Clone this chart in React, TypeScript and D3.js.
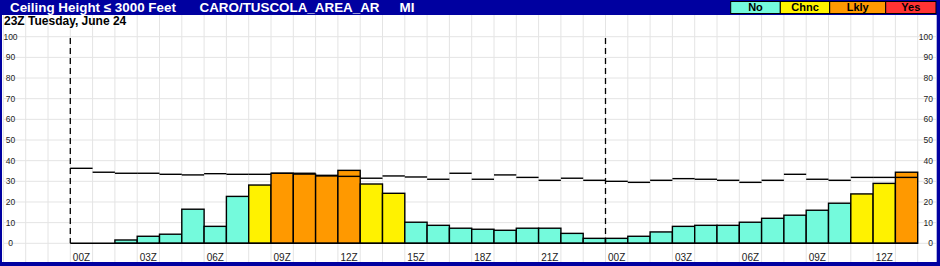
import React from "react";
import * as d3 from "d3";

const hours = [
  "00Z","01Z","02Z","03Z","04Z","05Z","06Z","07Z","08Z","09Z","10Z","11Z",
  "12Z","13Z","14Z","15Z","16Z","17Z","18Z","19Z","20Z","21Z","22Z","23Z",
  "00Z","01Z","02Z","03Z","04Z","05Z","06Z","07Z","08Z","09Z","10Z","11Z",
  "12Z","13Z",
];
const probability = [
  0, 0, 1.6, 3.4, 4.4, 16.5, 8.2, 22.7, 28.2, 33.9, 33.5, 32.6,
  35.3, 28.7, 24.2, 10.2, 8.7, 7.3, 6.8, 6.3, 7.3, 7.3, 4.8, 2.4,
  2.4, 3.4, 5.5, 8.2, 8.7, 8.7, 10.2, 12.1, 13.6, 16.0, 19.4, 23.9,
  29.0, 34.4,
];
const category = [
  0, 0, 0, 0, 0, 0, 0, 0, 1, 2, 2, 2,
  2, 1, 1, 0, 0, 0, 0, 0, 0, 0, 0, 0,
  0, 0, 0, 0, 0, 0, 0, 0, 0, 0, 0, 1,
  1, 2,
];
const climo = [
  36.3, 34.4, 33.9, 33.9, 33.4, 33.1, 33.7, 33.4, 33.4, 33.9, 33.9, 32.9,
  32.4, 31.5, 32.6, 32.1, 31.0, 33.9, 31.0, 33.1, 31.9, 30.5, 31.5, 30.5,
  30.0, 29.5, 30.5, 31.3, 31.0, 30.5, 29.5, 30.5, 33.4, 31.0, 30.5, 31.9,
  31.9, 31.9,
];
const yTicks = [0, 10, 20, 30, 40, 50, 60, 70, 80, 90, 100];
const legendLabels = ["No", "Chnc", "Lkly", "Yes"];
const legendColors = ["#74FADC", "#FFF200", "#FF9900", "#FF3333"];
const dayBreaks = [0, 24];

const W = 940;
const H = 266;
const BLUE = "#0000A0";
const FONT = "Arial, 'Liberation Sans', Helvetica, sans-serif";

export default function App() {
  const n = probability.length;
  const x = d3.scaleLinear().domain([0, n]).range([70.3, 917.7]);
  const y = d3.scaleLinear().domain([0, 100]).range([243.3, 36.7]);

  const vGrid = d3.range(-3, n + 1);
  const legendX = [730.7, 780.3, 829.7, 885.7, 936];

  return (
    <svg
      width={W}
      height={H}
      style={{ position: "fixed", left: 0, top: 0, background: "#fff" }}
      fontFamily={FONT}
    >
      <rect x={0} y={0} width={W} height={H} fill="#fff" />
      {/* grid */}
      {vGrid.map((k) => (
        <line
          key={"vg" + k}
          x1={x(k)}
          x2={x(k)}
          y1={15}
          y2={262}
          stroke="#e4e4e4"
          strokeWidth={1}
        />
      ))}
      {yTicks.map((t) => (
        <line
          key={"hg" + t}
          x1={3}
          x2={936}
          y1={y(t)}
          y2={y(t)}
          stroke="#e4e4e4"
          strokeWidth={1}
        />
      ))}
      {/* y labels */}
      {yTicks.map((t) => (
        <text
          key={"yl" + t}
          x={10.5}
          y={y(t) + 3}
          fontSize={8.5}
          textAnchor="middle"
          fill="#222"
        >
          {t}
        </text>
      ))}
      {yTicks.map((t) => (
        <text
          key={"yr" + t}
          x={933}
          y={y(t) + 3}
          fontSize={8.5}
          textAnchor="end"
          fill="#222"
        >
          {t}
        </text>
      ))}
      {/* bars */}
      {probability.map((v, i) =>
        v > 0 ? (
          <rect
            key={"b" + i}
            x={x(i)}
            y={y(v)}
            width={x(i + 1) - x(i)}
            height={y(0) - y(v)}
            fill={legendColors[category[i]]}
            stroke="#000"
            strokeWidth={1.4}
          />
        ) : null
      )}
      {/* baseline */}
      <line x1={x(0)} x2={x(n)} y1={y(0)} y2={y(0)} stroke="#000" strokeWidth={1.4} />
      {/* climatology segments */}
      {climo.map((v, i) => (
        <line
          key={"c" + i}
          x1={x(i)}
          x2={x(i + 1)}
          y1={y(v)}
          y2={y(v)}
          stroke="#000"
          strokeWidth={1.4}
        />
      ))}
      {/* day break dashed lines */}
      {dayBreaks.map((d) => (
        <line
          key={"d" + d}
          x1={x(d)}
          x2={x(d)}
          y1={38}
          y2={y(0)}
          stroke="#000"
          strokeWidth={1.3}
          strokeDasharray="6,4"
        />
      ))}
      {/* x labels */}
      {hours.map((h, i) =>
        i % 3 === 0 ? (
          <text
            key={"xl" + i}
            x={(x(i) + x(i + 1)) / 2}
            y={260.5}
            fontSize={10}
            textAnchor="middle"
            fill="#222"
          >
            {h}
          </text>
        ) : null
      )}
      {/* title bar */}
      <rect x={0} y={0} width={W} height={15} fill={BLUE} />
      <text x={10} y={12} fontSize={13.4} fontWeight="bold" fill="#fff">
        Ceiling Height ≤ 3000 Feet
      </text>
      <text x={199.5} y={12} fontSize={13.4} fontWeight="bold" fill="#fff">
        CARO/TUSCOLA_AREA_AR
      </text>
      <text x={399.5} y={12} fontSize={13.4} fontWeight="bold" fill="#fff">
        MI
      </text>
      {/* legend */}
      {legendLabels.map((l, i) => (
        <g key={"lg" + i}>
          <rect
            x={legendX[i]}
            y={1.5}
            width={legendX[i + 1] - legendX[i]}
            height={12}
            fill={legendColors[i]}
            stroke="#000"
            strokeWidth={1}
          />
          <text
            x={(legendX[i] + legendX[i + 1]) / 2}
            y={11.4}
            fontSize={11}
            fontWeight="bold"
            textAnchor="middle"
            fill="#000"
          >
            {l}
          </text>
        </g>
      ))}
      {/* subtitle */}
      <text x={4} y={25} fontSize={12} fontWeight="bold" fill="#000">
        23Z Tuesday, June 24
      </text>
      {/* frame */}
      <rect x={0} y={0} width={2} height={H} fill={BLUE} />
      <rect x={936.7} y={0} width={3.3} height={H} fill={BLUE} />
      <rect x={0} y={262} width={W} height={4} fill={BLUE} />
    </svg>
  );
}
